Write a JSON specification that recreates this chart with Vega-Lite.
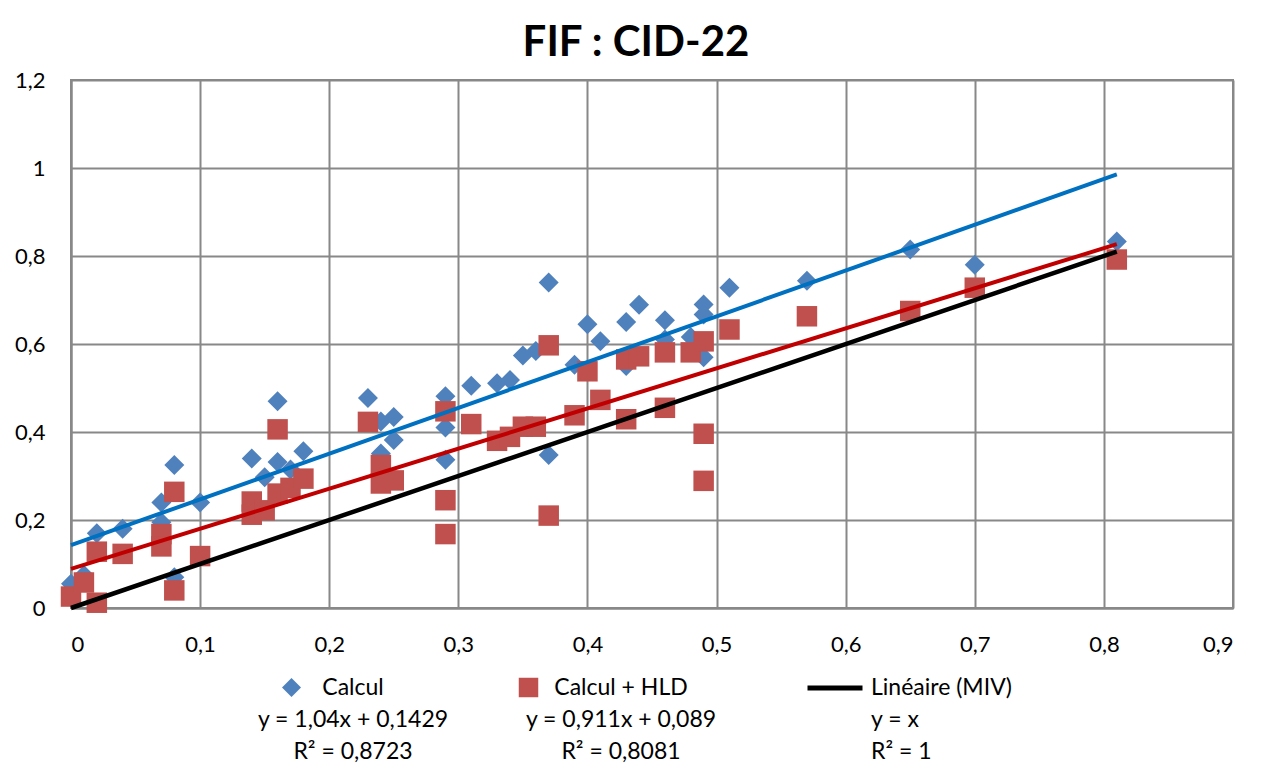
{
  "$schema": "https://vega.github.io/schema/vega-lite/v6.json",
  "width": 1162,
  "height": 528,
  "autosize": "none",
  "padding": {"left": 71, "top": 80, "right": 42, "bottom": 165},
  "background": "white",
  "title": {"text": "FIF : CID-22", "font": "Lato", "fontSize": 42, "fontWeight": "bold", "color": "#000000", "anchor": "middle", "dx": -16, "offset": 4},
  "config": {
    "locale": {"number": {"decimal": ",", "thousands": " ", "grouping": [3], "currency": ["", " €"]}},
    "view": {"stroke": "#888888", "strokeWidth": 2},
    "style": {"guide-label": {"lineHeight": 32}},
    "axis": {"labelFont": "Lato", "labelFontSize": 22, "labelColor": "#000000", "gridColor": "#888888", "gridWidth": 2, "gridOpacity": 1, "domainColor": "#888888", "domainWidth": 2, "ticks": false, "title": null, "format": "~g"},
    "legend": {"labelFont": "Lato", "labelFontSize": 23, "labelColor": "#000000", "labelLimit": 600}
  },
  "datasets": {
    "points": [
      {"series": "Calcul", "x": 0, "y": 0.055},
      {"series": "Calcul", "x": 0.01, "y": 0.075},
      {"series": "Calcul", "x": 0.02, "y": 0.17},
      {"series": "Calcul", "x": 0.04, "y": 0.18},
      {"series": "Calcul", "x": 0.07, "y": 0.24},
      {"series": "Calcul", "x": 0.07, "y": 0.195},
      {"series": "Calcul", "x": 0.08, "y": 0.325},
      {"series": "Calcul", "x": 0.08, "y": 0.07},
      {"series": "Calcul", "x": 0.1, "y": 0.24},
      {"series": "Calcul", "x": 0.14, "y": 0.34},
      {"series": "Calcul", "x": 0.15, "y": 0.297},
      {"series": "Calcul", "x": 0.16, "y": 0.332},
      {"series": "Calcul", "x": 0.16, "y": 0.47},
      {"series": "Calcul", "x": 0.17, "y": 0.315},
      {"series": "Calcul", "x": 0.18, "y": 0.356},
      {"series": "Calcul", "x": 0.23, "y": 0.477},
      {"series": "Calcul", "x": 0.24, "y": 0.424},
      {"series": "Calcul", "x": 0.24, "y": 0.351},
      {"series": "Calcul", "x": 0.25, "y": 0.434},
      {"series": "Calcul", "x": 0.25, "y": 0.382},
      {"series": "Calcul", "x": 0.29, "y": 0.481},
      {"series": "Calcul", "x": 0.29, "y": 0.41},
      {"series": "Calcul", "x": 0.29, "y": 0.337},
      {"series": "Calcul", "x": 0.31, "y": 0.505},
      {"series": "Calcul", "x": 0.33, "y": 0.511},
      {"series": "Calcul", "x": 0.34, "y": 0.518},
      {"series": "Calcul", "x": 0.35, "y": 0.574},
      {"series": "Calcul", "x": 0.36, "y": 0.584},
      {"series": "Calcul", "x": 0.37, "y": 0.74},
      {"series": "Calcul", "x": 0.37, "y": 0.348},
      {"series": "Calcul", "x": 0.39, "y": 0.553},
      {"series": "Calcul", "x": 0.4, "y": 0.645},
      {"series": "Calcul", "x": 0.41, "y": 0.606},
      {"series": "Calcul", "x": 0.43, "y": 0.65},
      {"series": "Calcul", "x": 0.43, "y": 0.55},
      {"series": "Calcul", "x": 0.44, "y": 0.689},
      {"series": "Calcul", "x": 0.46, "y": 0.654},
      {"series": "Calcul", "x": 0.46, "y": 0.61},
      {"series": "Calcul", "x": 0.48, "y": 0.616},
      {"series": "Calcul", "x": 0.49, "y": 0.69},
      {"series": "Calcul", "x": 0.49, "y": 0.667},
      {"series": "Calcul", "x": 0.49, "y": 0.57},
      {"series": "Calcul", "x": 0.51, "y": 0.728},
      {"series": "Calcul", "x": 0.57, "y": 0.744},
      {"series": "Calcul", "x": 0.65, "y": 0.815},
      {"series": "Calcul", "x": 0.7, "y": 0.78},
      {"series": "Calcul", "x": 0.81, "y": 0.833},
      {"series": "Calcul + HLD", "x": 0, "y": 0.026},
      {"series": "Calcul + HLD", "x": 0.01, "y": 0.058},
      {"series": "Calcul + HLD", "x": 0.02, "y": 0.012},
      {"series": "Calcul + HLD", "x": 0.02, "y": 0.128},
      {"series": "Calcul + HLD", "x": 0.04, "y": 0.123},
      {"series": "Calcul + HLD", "x": 0.07, "y": 0.168},
      {"series": "Calcul + HLD", "x": 0.07, "y": 0.14},
      {"series": "Calcul + HLD", "x": 0.08, "y": 0.264},
      {"series": "Calcul + HLD", "x": 0.08, "y": 0.04},
      {"series": "Calcul + HLD", "x": 0.1, "y": 0.118},
      {"series": "Calcul + HLD", "x": 0.14, "y": 0.242},
      {"series": "Calcul + HLD", "x": 0.14, "y": 0.212},
      {"series": "Calcul + HLD", "x": 0.15, "y": 0.222},
      {"series": "Calcul + HLD", "x": 0.16, "y": 0.26},
      {"series": "Calcul + HLD", "x": 0.16, "y": 0.406},
      {"series": "Calcul + HLD", "x": 0.17, "y": 0.273},
      {"series": "Calcul + HLD", "x": 0.18, "y": 0.294},
      {"series": "Calcul + HLD", "x": 0.23, "y": 0.423},
      {"series": "Calcul + HLD", "x": 0.24, "y": 0.325},
      {"series": "Calcul + HLD", "x": 0.24, "y": 0.283},
      {"series": "Calcul + HLD", "x": 0.25, "y": 0.29},
      {"series": "Calcul + HLD", "x": 0.29, "y": 0.447},
      {"series": "Calcul + HLD", "x": 0.29, "y": 0.245},
      {"series": "Calcul + HLD", "x": 0.29, "y": 0.168},
      {"series": "Calcul + HLD", "x": 0.31, "y": 0.418},
      {"series": "Calcul + HLD", "x": 0.33, "y": 0.38},
      {"series": "Calcul + HLD", "x": 0.34, "y": 0.389},
      {"series": "Calcul + HLD", "x": 0.35, "y": 0.412},
      {"series": "Calcul + HLD", "x": 0.36, "y": 0.412},
      {"series": "Calcul + HLD", "x": 0.37, "y": 0.597},
      {"series": "Calcul + HLD", "x": 0.37, "y": 0.21},
      {"series": "Calcul + HLD", "x": 0.39, "y": 0.438},
      {"series": "Calcul + HLD", "x": 0.4, "y": 0.538},
      {"series": "Calcul + HLD", "x": 0.41, "y": 0.473},
      {"series": "Calcul + HLD", "x": 0.43, "y": 0.565},
      {"series": "Calcul + HLD", "x": 0.43, "y": 0.429},
      {"series": "Calcul + HLD", "x": 0.44, "y": 0.572},
      {"series": "Calcul + HLD", "x": 0.46, "y": 0.581},
      {"series": "Calcul + HLD", "x": 0.46, "y": 0.455},
      {"series": "Calcul + HLD", "x": 0.48, "y": 0.581},
      {"series": "Calcul + HLD", "x": 0.49, "y": 0.606},
      {"series": "Calcul + HLD", "x": 0.49, "y": 0.396},
      {"series": "Calcul + HLD", "x": 0.49, "y": 0.289},
      {"series": "Calcul + HLD", "x": 0.51, "y": 0.633},
      {"series": "Calcul + HLD", "x": 0.57, "y": 0.663},
      {"series": "Calcul + HLD", "x": 0.65, "y": 0.675},
      {"series": "Calcul + HLD", "x": 0.7, "y": 0.728},
      {"series": "Calcul + HLD", "x": 0.81, "y": 0.792}
    ],
    "fits": [
      {"fit": "Calcul", "x": 0, "y": 0.1429},
      {"fit": "Calcul", "x": 0.81, "y": 0.9853},
      {"fit": "Calcul + HLD", "x": 0, "y": 0.089},
      {"fit": "Calcul + HLD", "x": 0.81, "y": 0.8269},
      {"fit": "Linéaire (MIV)", "x": 0, "y": 0},
      {"fit": "Linéaire (MIV)", "x": 0.81, "y": 0.81}
    ]
  },
  "encoding": {
    "x": {"field": "x", "type": "quantitative", "scale": {"domain": [0, 0.9], "nice": false, "zero": false}, "axis": {"values": [0, 0.1, 0.2, 0.3, 0.4, 0.5, 0.6, 0.7, 0.8, 0.9], "labelPadding": 26}},
    "y": {"field": "y", "type": "quantitative", "scale": {"domain": [0, 1.2], "nice": false, "zero": false}, "axis": {"values": [0, 0.2, 0.4, 0.6, 0.8, 1, 1.2], "labelPadding": 26}}
  },
  "layer": [
    {
      "data": {"name": "points"},
      "transform": [{"filter": "datum.series === 'Calcul'"}],
      "mark": {"type": "point", "shape": "diamond", "filled": true, "size": 400, "opacity": 1},
      "encoding": {
        "color": {"field": "series", "type": "nominal", "scale": {"domain": ["Calcul"], "range": ["#4F81BD"]},
          "legend": {"orient": "none", "legendX": 209, "legendY": 596, "title": null, "symbolType": "diamond", "symbolSize": 360, "symbolStrokeWidth": 0, "labelAlign": "center", "labelOffset": 50,
            "labelExpr": "['Calcul', 'y = 1,04x + 0,1429', 'R² = 0,8723']",
            "encode": {"labels": {"update": {"lineHeight": {"value": 32}}}}}}
      }
    },
    {
      "data": {"name": "points"},
      "transform": [{"filter": "datum.series === 'Calcul + HLD'"}],
      "mark": {"type": "point", "shape": "square", "filled": true, "size": 420, "opacity": 1},
      "encoding": {
        "color": {"field": "series", "type": "nominal", "scale": {"domain": ["Calcul + HLD"], "range": ["#C0504D"]},
          "legend": {"orient": "none", "legendX": 446, "legendY": 596, "title": null, "symbolType": "square", "symbolSize": 380, "symbolStrokeWidth": 0, "labelAlign": "center", "labelOffset": 81,
            "labelExpr": "['Calcul + HLD', 'y = 0,911x + 0,089', 'R² = 0,8081']",
            "encode": {"labels": {"update": {"lineHeight": {"value": 32}}}}}}
      }
    },
    {
      "data": {"name": "fits"},
      "transform": [{"filter": "datum.fit === 'Calcul'"}],
      "mark": {"type": "line", "color": "#0070C0", "strokeWidth": 4},
      "encoding": {}
    },
    {
      "data": {"name": "fits"},
      "transform": [{"filter": "datum.fit === 'Calcul + HLD'"}],
      "mark": {"type": "line", "color": "#C00000", "strokeWidth": 4},
      "encoding": {}
    },
    {
      "data": {"name": "fits"},
      "transform": [{"filter": "datum.fit === 'Linéaire (MIV)'"}],
      "mark": {"type": "line", "strokeWidth": 4.5},
      "encoding": {
        "color": {"field": "fit", "type": "nominal", "scale": {"domain": ["Linéaire (MIV)"], "range": ["#000000"]},
          "legend": {"orient": "none", "legendX": 734, "legendY": 578, "title": null, "symbolType": "stroke", "symbolSize": 3025, "symbolStrokeWidth": 5, "labelAlign": "left", "labelOffset": 6,
            "labelExpr": "['Linéaire (MIV)', '  y = x', ' R² = 1']",
            "encode": {"labels": {"update": {"lineHeight": {"value": 32}}}}}}
      }
    }
  ],
  "resolve": {"scale": {"color": "independent"}, "legend": {"color": "independent"}}
}
